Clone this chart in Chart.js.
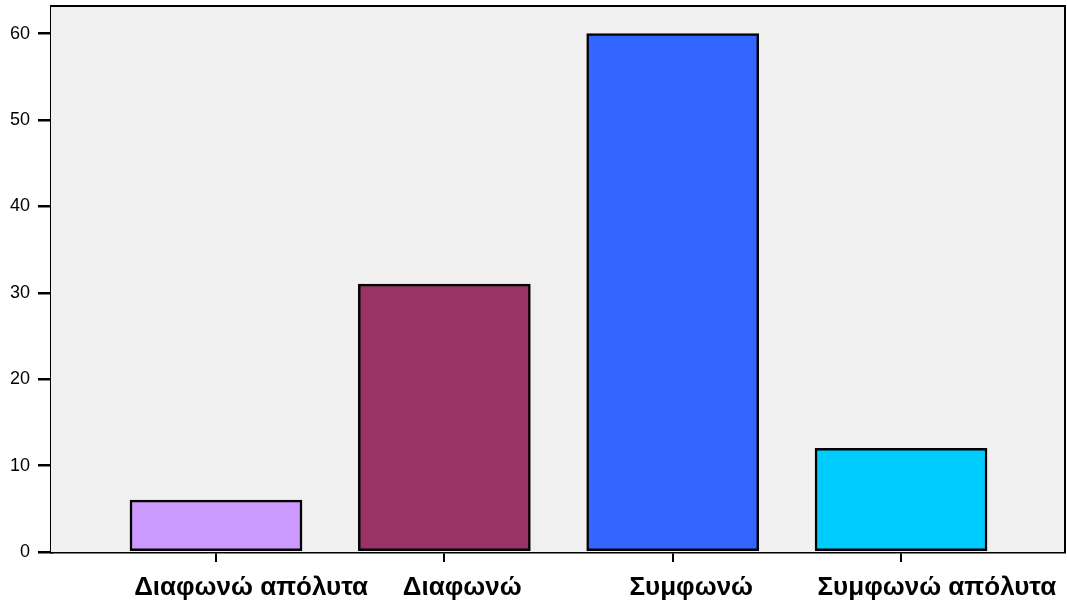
<!DOCTYPE html>
<html>
<head>
<meta charset="utf-8">
<script src="https://cdn.jsdelivr.net/npm/chart.js@4"></script>
<style>
  html, body { margin: 0; padding: 0; background: #ffffff; }
  #wrap { width: 1067px; height: 605px; }
</style>
</head>
<body>
<div id="wrap"><canvas id="c" width="1067" height="605"></canvas></div>
<script>
// Responses and counts
const categories = ['Διαφωνώ απόλυτα', 'Διαφωνώ', 'Συμφωνώ', 'Συμφωνώ απόλυτα'];
const counts = [6, 31, 60, 12];
const barColors = ['#CC99FF', '#993366', '#3366FF', '#00CCFF'];
const yTicks = [0, 10, 20, 30, 40, 50, 60];

const FONT = '"Liberation Sans", Arial, sans-serif';

// Light grey plot background plus top/right frame lines
const framePlugin = {
  id: 'frame',
  beforeDatasetsDraw(chart) {
    const { ctx, chartArea: a } = chart;
    ctx.save();
    ctx.fillStyle = '#F0F0F0';
    ctx.fillRect(a.left, a.top, a.right - a.left, a.bottom - a.top);
    ctx.restore();
  },
  afterDraw(chart) {
    const { ctx, chartArea: a } = chart;
    ctx.save();
    ctx.strokeStyle = '#000';
    ctx.lineWidth = 2;
    ctx.beginPath();
    ctx.moveTo(a.left, a.top);
    ctx.lineTo(a.right, a.top);
    ctx.lineTo(a.right, a.bottom);
    ctx.stroke();
    ctx.restore();
  }
};

// Category captions under the x axis
const captionPlugin = {
  id: 'captions',
  afterDraw(chart) {
    const { ctx } = chart;
    const xs = chart.scales.x;
    ctx.save();
    ctx.font = 'bold 26px ' + FONT;
    ctx.fillStyle = '#000';
    ctx.textAlign = 'left';
    ctx.textBaseline = 'alphabetic';
    categories.forEach((label, i) => {
      const px = xs.getPixelForValue(i + 1);
      const w = ctx.measureText(label).width;
      ctx.fillText(label, px - 0.35 * w, 595);
    });
    ctx.restore();
  }
};

const points = counts.map((v, i) => ({ x: i + 1, y: v }));

new Chart(document.getElementById('c'), {
  type: 'bar',
  data: {
    datasets: [{
      data: points,
      backgroundColor: barColors,
      borderColor: '#000',
      borderWidth: 2.5,
      borderSkipped: false,
      barThickness: 172
    }]
  },
  options: {
    responsive: false,
    animation: false,
    layout: { padding: { top: 6, right: 2, left: 0, bottom: 0 } },
    plugins: { legend: { display: false }, tooltip: { enabled: false } },
    scales: {
      x: {
        type: 'linear',
        offset: false,
        min: 0.2774,
        max: 4.718,
        afterBuildTicks(scale) {
          scale.ticks = categories.map((_, i) => ({ value: i + 1 }));
        },
        afterFit(scale) {
          scale.height = 53;
          scale.paddingLeft = 0;
          scale.paddingRight = 0;
        },
        ticks: { display: false },
        grid: {
          offset: false,
          drawOnChartArea: false,
          drawTicks: true,
          tickLength: 10,
          color: '#000',
          lineWidth: 2
        },
        border: { display: true, color: '#000', width: 2.5 }
      },
      y: {
        min: 0,
        max: 63.2,
        afterBuildTicks(scale) {
          scale.ticks = yTicks.map(v => ({ value: v }));
        },
        afterFit(scale) {
          scale.width = 51;
          scale.paddingTop = 0;
          scale.paddingBottom = 0;
        },
        ticks: {
          color: '#000',
          padding: 8,
          font: { family: FONT, size: 18 }
        },
        grid: {
          drawOnChartArea: false,
          drawTicks: true,
          tickLength: 13,
          color: '#000',
          lineWidth: 2.5
        },
        border: { display: true, color: '#000', width: 3 }
      }
    }
  },
  plugins: [framePlugin, captionPlugin]
});
</script>
</body>
</html>
